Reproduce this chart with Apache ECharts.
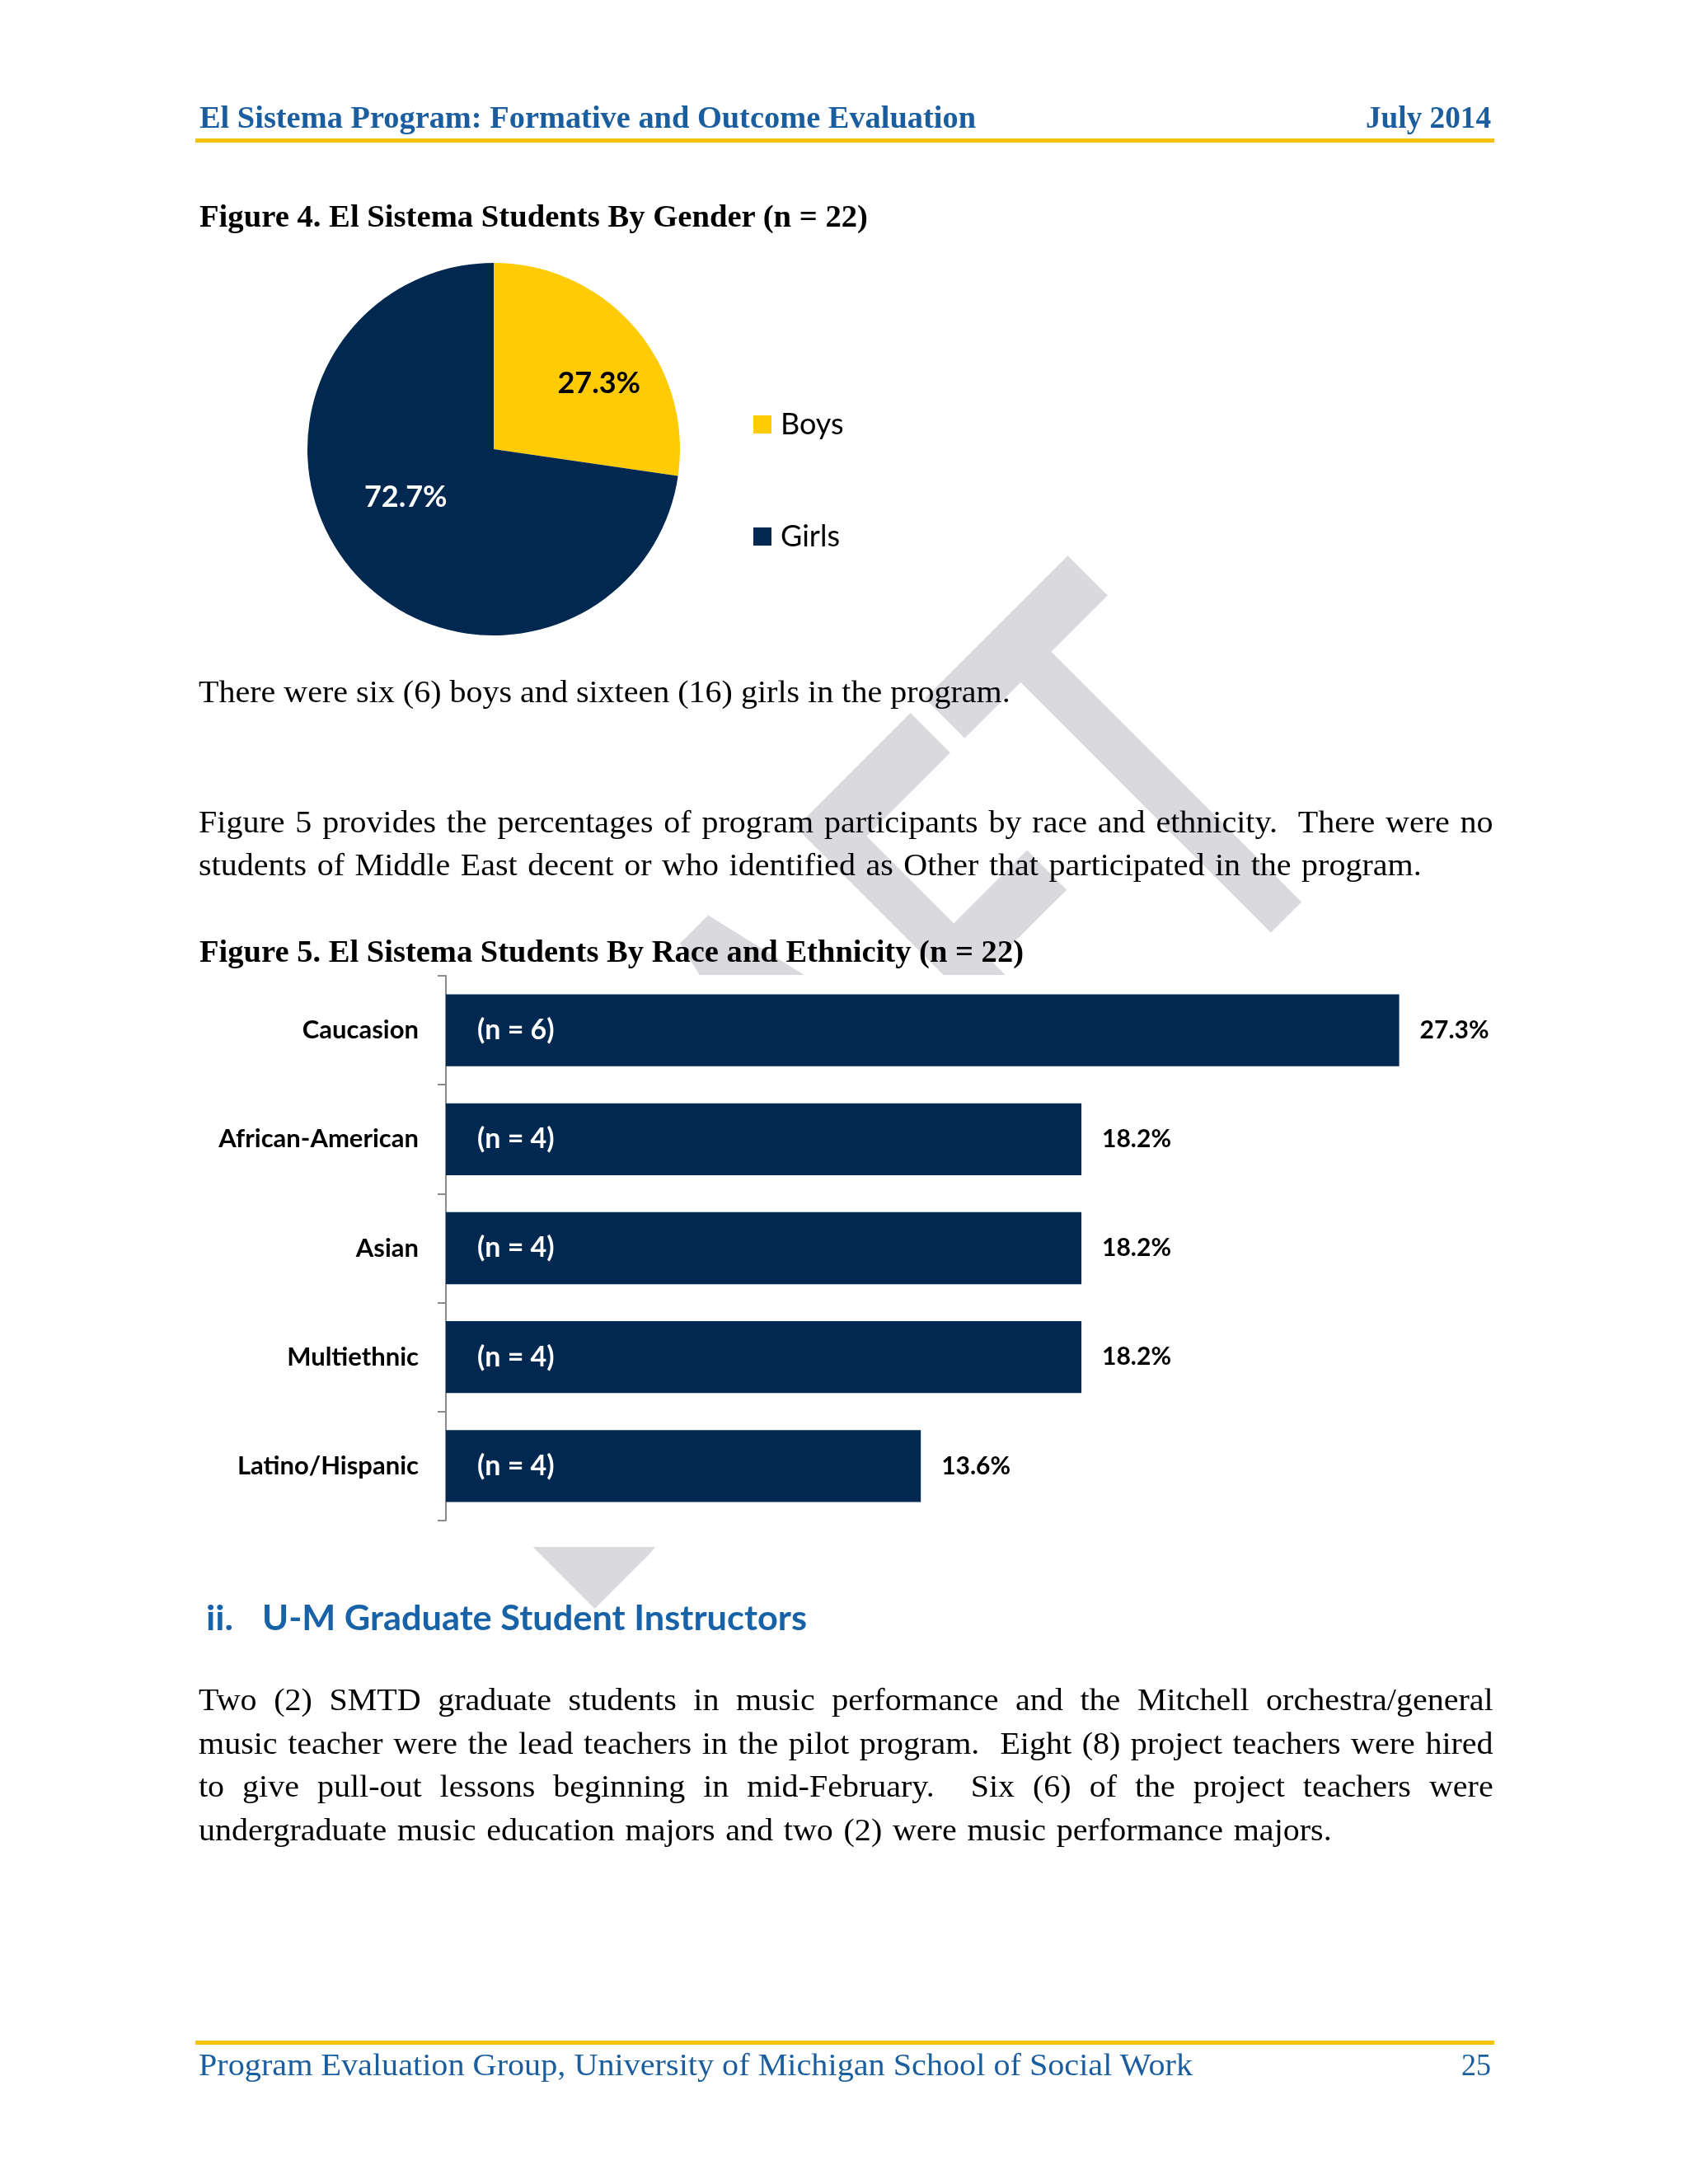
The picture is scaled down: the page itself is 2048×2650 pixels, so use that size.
<!DOCTYPE html>
<html><head><meta charset="utf-8">
<script src="https://cdn.jsdelivr.net/npm/echarts@6/dist/echarts.min.js"></script>
<style>
html,body{margin:0;padding:0;background:#fff;}
#page{position:relative;width:2048px;height:2650px;overflow:hidden;background:#fff;}
#wm{position:absolute;left:0;top:0;z-index:0}
#pie{position:absolute;left:241px;top:300px;width:860px;height:500px;z-index:1}
#bar{position:absolute;left:241px;top:1183px;width:1573px;height:694px;z-index:1}
#txt{position:absolute;left:0;top:0;z-index:2;pointer-events:none}
#txt text{white-space:pre}
.rule{position:absolute;left:237px;width:1576px;height:5px;background:#F4C20D;z-index:2}
</style></head><body><div id="page">
<svg id="wm" width="2048" height="2650"><text x="1000" y="1570" text-anchor="middle" font-family="Roboto" font-weight="500" font-size="700" fill="#DADADE" textLength="1350" lengthAdjust="spacingAndGlyphs" transform="rotate(-45 1000 1320)">DRAFT</text></svg>
<div id="pie"></div>
<div id="bar"></div>
<div class="rule" style="top:168px"></div>
<div class="rule" style="top:2476px"></div>
<svg id="txt" width="2048" height="2650"></svg>
</div>
<script>
// ---------- data ----------
const genderNames = ['Boys', 'Girls'];
const genderPct = [27.3, 72.7];
const raceCats = ['Caucasion', 'African-American', 'Asian', 'Multiethnic', 'Latino/Hispanic'];
const racePct = [27.3, 18.2, 18.2, 18.2, 13.6];
const raceN = ['(n = 6)', '(n = 4)', '(n = 4)', '(n = 4)', '(n = 4)'];
const pctAxisRange = [0, 30];

// ---------- styles ----------
const NAVY = '#012850', GOLD = '#FFCB05';
const BLUE = '#1B5E9F', HBLUE = '#1862A8';
const SANS = 'Lato';

// ---------- pie ----------
const pie = echarts.init(document.getElementById('pie'));
pie.setOption({
  backgroundColor: '#fff', animation: false,
  color: [GOLD, NAVY],
  legend: {
    orient: 'vertical', left: 668, top: 192, itemWidth: 22, itemHeight: 22, itemGap: 100,
    icon: 'rect', data: genderNames, selectedMode: false,
    textStyle: { fontFamily: SANS, fontSize: 36, color: '#000', padding: [0, 0, 0, 6] }
  },
  series: [{
    type: 'pie', center: [358, 245], radius: 226, startAngle: 90, clockwise: true, silent: true,
    avoidLabelOverlap: false,
    label: { show: true, position: 'inside', fontFamily: SANS, fontWeight: 'bold', fontSize: 36,
      formatter: p => p.value.toFixed(1) + '%' },
    labelLine: { show: false },
    data: genderNames.map((n, i) => ({
      name: n, value: genderPct[i],
      label: i === 0 ? { color: '#000', offset: [40, -4] } : { color: '#fff', offset: [-19, -17] }
    }))
  }]
});

// ---------- bar ----------
const bar = echarts.init(document.getElementById('bar'));
bar.setOption({
  backgroundColor: '#fff', animation: false,
  grid: { left: 300, right: 2, top: 1, bottom: 32, outerBoundsMode: 'none' },
  xAxis: { type: 'value', min: pctAxisRange[0], max: pctAxisRange[1], show: false, splitLine: { show: false } },
  yAxis: {
    type: 'category', inverse: true, data: raceCats,
    axisLine: { show: true, lineStyle: { color: '#8a8a8a', width: 2 } },
    axisTick: { show: true, length: 10, lineStyle: { color: '#8a8a8a', width: 2 } },
    axisLabel: { margin: 33, fontFamily: SANS, fontWeight: 'bold', fontSize: 31, color: '#000' },
    splitLine: { show: false }
  },
  series: [
    { type: 'bar', data: racePct, barCategoryGap: '34%', silent: true, itemStyle: { color: NAVY },
      label: { show: true, position: 'right', distance: 25, fontFamily: SANS, fontWeight: 'bold', fontSize: 30,
        color: '#000', formatter: p => p.value.toFixed(1) + '%' } },
    { type: 'bar', data: racePct, barGap: '-100%', barCategoryGap: '34%', silent: true, z: 3,
      itemStyle: { color: 'rgba(0,0,0,0)' },
      label: { show: true, position: 'insideLeft', distance: 38, fontFamily: SANS, fontWeight: 'bold', fontSize: 34,
        color: '#fff', formatter: p => raceN[p.dataIndex] } }
  ]
});

// ---------- page text ----------
const SERIF = "'Liberation Serif', serif";
const singleLines = [
  { t: 'El Sistema Program: Formative and Outcome Evaluation', x: 242, y: 155, w: 942, s: 38.5, b: 1, c: BLUE },
  { t: 'July 2014', x: 1809, y: 155, w: 152, s: 38.5, b: 1, c: BLUE, a: 'end' },
  { t: 'Figure 4. El Sistema Students By Gender (n = 22)', x: 242, y: 275, w: 811, s: 38.5, b: 1, c: '#000' },
  { t: 'Figure 5. El Sistema Students By Race and Ethnicity (n = 22)', x: 242, y: 1167, w: 1000, s: 38.5, b: 1, c: '#000' },
  { t: 'ii.', x: 250, y: 1978, w: 33, s: 42, b: 1, c: HBLUE, f: SANS },
  { t: 'U-M Graduate Student Instructors', x: 318, y: 1978, w: 661, s: 42, b: 1, c: HBLUE, f: SANS },
  { t: 'Program Evaluation Group, University of Michigan School of Social Work', x: 241, y: 2518, w: 1206, s: 38.5, c: BLUE },
  { t: '25', x: 1809, y: 2518, w: 36, s: 38.5, c: BLUE, a: 'end' }
];
const bodyLines = [
  { t: 'There were six (6) boys and sixteen (16) girls in the program.', y: 852, w: 985, ref: true },
  { t: 'Figure 5 provides the percentages of program participants by race and ethnicity.  There were no', y: 1010, w: 1571 },
  { t: 'students of Middle East decent or who identified as Other that participated in the program.', y: 1062, w: 1484 },
  { t: 'Two (2) SMTD graduate students in music performance and the Mitchell orchestra/general', y: 2075, w: 1571 },
  { t: 'music teacher were the lead teachers in the pilot program.  Eight (8) project teachers were hired', y: 2128, w: 1571 },
  { t: 'to give pull-out lessons beginning in mid-February.  Six (6) of the project teachers were', y: 2180, w: 1571 },
  { t: 'undergraduate music education majors and two (2) were music performance majors.', y: 2233, w: 1375 }
];

const NS = 'http://www.w3.org/2000/svg';
const svg = document.getElementById('txt');
function mk(t, attrs) {
  const e = document.createElementNS(NS, 'text');
  e.setAttributeNS('http://www.w3.org/XML/1998/namespace', 'xml:space', 'preserve');
  for (const k in attrs) e.setAttribute(k, attrs[k]);
  e.textContent = t;
  svg.appendChild(e);
  return e;
}
function build() {
  singleLines.forEach(o => {
    mk(o.t, { x: o.x, y: o.y, 'font-family': o.f || SERIF, 'font-size': o.s, 'font-weight': o.b ? 'bold' : 'normal',
      fill: o.c, 'text-anchor': o.a || 'start', textLength: o.w, lengthAdjust: 'spacingAndGlyphs' });
  });
  const BODY_SIZE = 38.5;
  const els = bodyLines.map(o => mk(o.t, { x: 0, y: 0, 'font-family': SERIF, 'font-size': BODY_SIZE, fill: '#000' }));
  const refIdx = bodyLines.findIndex(o => o.ref);
  const sc = bodyLines[refIdx].w / els[refIdx].getComputedTextLength();
  els.forEach((e, i) => {
    const o = bodyLines[i];
    const nat = e.getComputedTextLength();
    const spaces = (o.t.match(/ /g) || []).length;
    const ws = (o.w / sc - nat) / spaces;
    e.setAttribute('word-spacing', ws.toFixed(3));
    e.setAttribute('transform', 'translate(241,' + o.y + ') scale(' + sc.toFixed(4) + ',1)');
  });
}
if (document.fonts && document.fonts.ready) { document.fonts.ready.then(build); } else { build(); }
</script>
</body></html>
